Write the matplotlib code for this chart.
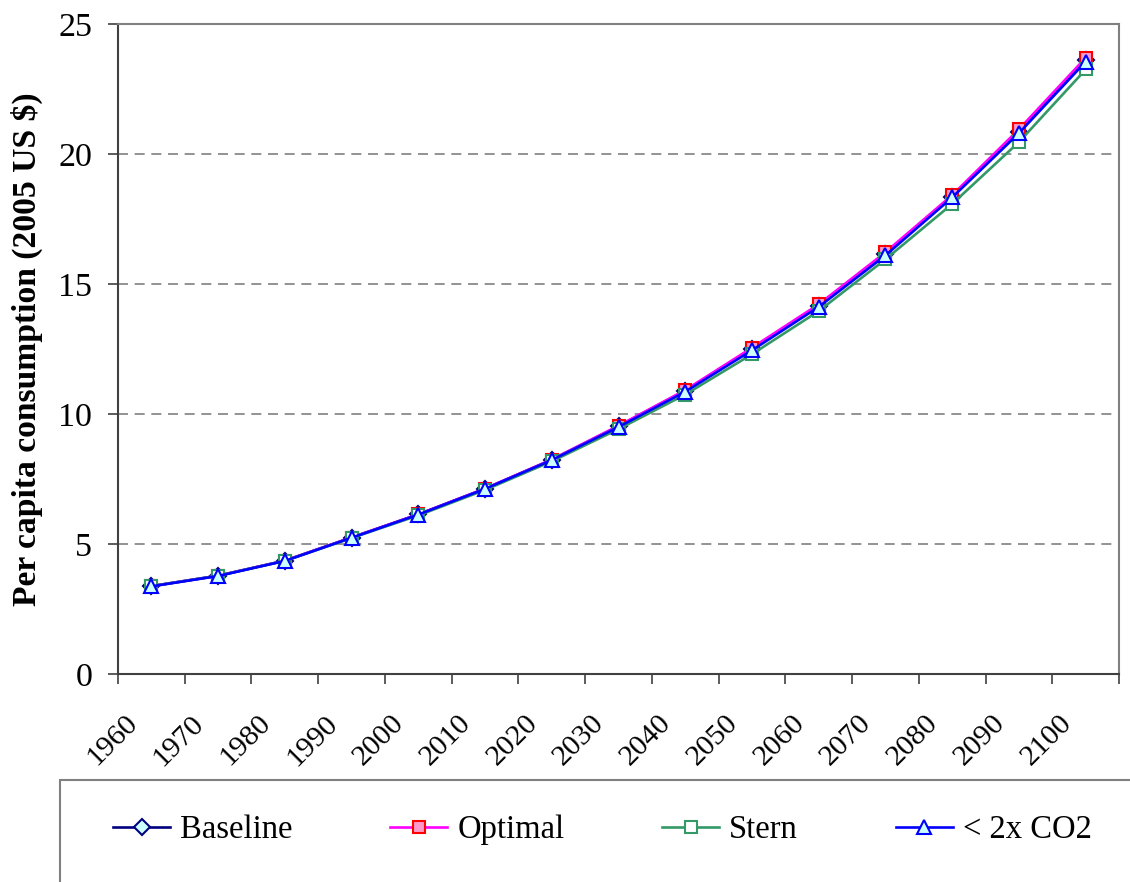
import numpy as np
import matplotlib
matplotlib.use("Agg")
import matplotlib.pyplot as plt
import matplotlib.transforms as mtransforms
from matplotlib.patches import Rectangle

plt.rcParams['font.family'] = ['Liberation Serif', 'DejaVu Serif']

# decade labels on the category axis
years = ["1960", "1970", "1980", "1990", "2000", "2010", "2020", "2030",
         "2040", "2050", "2060", "2070", "2080", "2090", "2100"]

# per capita consumption
baseline = [3.38, 3.78, 4.36, 5.25, 6.14, 7.13, 8.24, 9.53, 10.90, 12.50,
            14.17, 16.15, 18.36, 20.85, 23.60]
optimal = [3.38, 3.78, 4.36, 5.25, 6.14, 7.13, 8.25, 9.55, 10.92, 12.55,
           14.22, 16.22, 18.42, 20.95, 23.70]
stern = [3.38, 3.78, 4.35, 5.23, 6.10, 7.08, 8.18, 9.42, 10.75, 12.30,
         13.96, 15.95, 18.08, 20.46, 23.25]
co2_cap = [3.37, 3.77, 4.35, 5.24, 6.13, 7.12, 8.23, 9.50, 10.86, 12.45,
           14.12, 16.10, 18.33, 20.80, 23.55]

x = np.arange(len(years))

fig = plt.figure(figsize=(11.3, 8.82), dpi=100)
ax = fig.add_axes([0.1044, 0.2358, 0.8859, 0.737])

lw, ms, mew = 1.9, 10, 1.5
ax.plot(x, baseline, color="#000080", lw=lw, marker="D", ms=ms - 2,
        mfc="#CCFFFF", mec="#000080", mew=mew, label="Baseline")
ax.plot(x, optimal, color="#FF00FF", lw=lw, marker="s", ms=ms - 1,
        mfc="#FF99CC", mec="#FF0000", mew=mew, label="Optimal")
ax.plot(x, stern, color="#339966", lw=lw, marker="s", ms=ms - 1,
        mfc="white", mec="#339966", mew=mew, label="Stern")
ax.plot(x, co2_cap, color="#0000FF", lw=lw, marker="^", ms=ms,
        mfc="#CCFFFF", mec="#0000FF", mew=mew, label="< 2x CO2")

ax.set_xlim(-0.5, len(years) - 0.5)
ax.set_ylim(0, 25)
ax.set_yticks(np.arange(0, 26, 5))
ax.tick_params(axis="y", labelsize=24.5, length=7.5, width=1.2, color="#404040", pad=11)
for yv in range(5, 25, 5):
    ax.axhline(yv, color="#808080", lw=1.2, ls=(0, (6, 4)), zorder=0)

# category boundaries carry the tick marks, centres carry the labels
ax.set_xticks(np.arange(-0.5, len(years), 1.0), minor=True)
ax.set_xticks(x)
ax.set_xticklabels(years, rotation=45, ha="right", va="top")
ax.tick_params(axis="x", which="major", length=0, pad=26, labelsize=21.5)
ax.tick_params(axis="x", which="minor", length=7, width=1.2, color="#404040")
offset = mtransforms.ScaledTranslation(-9 / 100, 0, fig.dpi_scale_trans)
for lab in ax.get_xticklabels():
    lab.set_transform(lab.get_transform() + offset)

for side in ["left", "bottom"]:
    ax.spines[side].set_color("#404040")
    ax.spines[side].set_linewidth(1.5)
for side in ["top", "right"]:
    ax.spines[side].set_color("#808080")
    ax.spines[side].set_linewidth(1.5)

ax.set_ylabel("Per capita consumption (2005 US $)", fontsize=24.2,
              fontweight="bold", labelpad=11)

# legend frame runs off the bottom/right of the image
fig.patches.append(Rectangle((60 / 1130, -0.1), 1.0, 0.1 + 102 / 882,
                             transform=fig.transFigure, fill=False,
                             edgecolor="#808080", lw=1.5))
fig.legend(loc="center left", bbox_to_anchor=(113 / 1130, 52 / 882), ncol=4,
           frameon=False, fontsize=23.5, handlelength=1.75, handletextpad=0.3,
           columnspacing=3.0, borderpad=0, borderaxespad=0)

fig.savefig("out.png", dpi=100)
